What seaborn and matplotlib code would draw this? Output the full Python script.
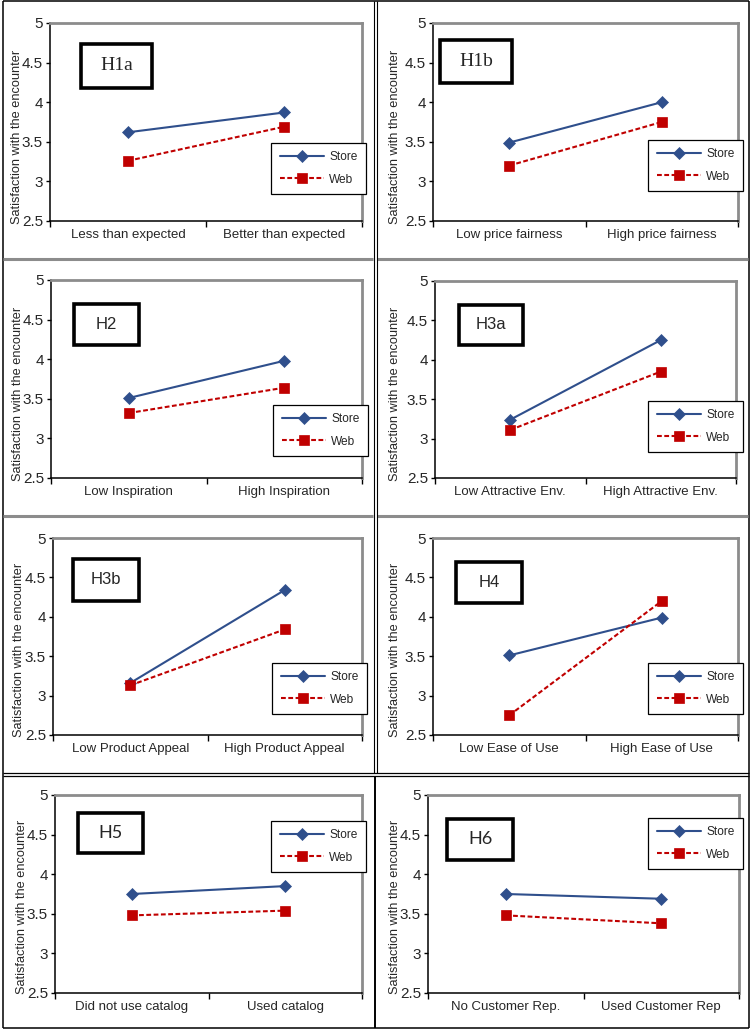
import numpy as np
import pandas as pd
import matplotlib
matplotlib.use("Agg")
import matplotlib.pyplot as plt
import seaborn as sns
from matplotlib.lines import Line2D
from matplotlib.patches import Rectangle

sns.set_style("white")
plt.rcParams['font.family'] = ['Liberation Sans', 'DejaVu Sans']

# ---------------- data ----------------
panel_names = ["H1a", "H1b", "H2", "H3a", "H3b", "H4", "H5", "H6"]
x_low = ["Less than expected", "Low price fairness", "Low Inspiration",
         "Low Attractive Env.", "Low Product Appeal", "Low Ease of Use",
         "Did not use catalog", "No Customer Rep."]
x_high = ["Better than expected", "High price fairness", "High Inspiration",
          "High Attractive Env.", "High Product Appeal", "High Ease of Use",
          "Used catalog", "Used Customer Rep"]
store_low = [3.62, 3.49, 3.51, 3.24, 3.16, 3.51, 3.75, 3.75]
store_high = [3.87, 4.00, 3.98, 4.25, 4.34, 3.99, 3.85, 3.69]
web_low = [3.26, 3.20, 3.32, 3.11, 3.13, 2.75, 3.48, 3.48]
web_high = [3.69, 3.75, 3.64, 3.85, 3.84, 4.20, 3.54, 3.38]
series = ["Store", "Web"]
y_ticks = [2.5, 3, 3.5, 4, 4.5, 5]
y_tick_labels = ["2.5", "3", "3.5", "4", "4.5", "5"]
y_label = "Satisfaction with the encounter"

# ---------------- layout (pixels) ----------------
W, H = 752, 1030
axes_px = [(50, 362, 23, 221), (433, 738, 23, 221),
           (51, 362, 280, 478), (435, 736, 281, 478),
           (53, 362, 538, 735), (433, 738, 538, 735),
           (55, 362, 795, 993), (428, 739, 795, 993)]
box_px = [(81, 152, 44, 88), (440, 512, 40, 83),
          (74, 139, 304, 345), (459, 523, 305, 345),
          (73, 139, 559, 601), (456, 522, 562, 603),
          (78, 143, 813, 853), (447, 513, 819, 860)]
box_font = [("Liberation Serif", 14), ("Liberation Serif", 14),
            ("Liberation Sans", 12), ("Liberation Sans", 12),
            ("Liberation Sans", 12), ("Liberation Sans", 12),
            ("Lato", 13), ("Lato", 13)]
legend_px = [(366, 143), (743, 140), (368, 405), (743, 401),
             (367, 663), (743, 663), (366, 821), (743, 818)]
ylabel_px = [(23, 137), (401, 137), (24, 394), (401, 394),
             (25, 650), (401, 650), (28, 907), (401, 907)]

STORE_C = "#2F4F8C"
WEB_C = "#C00000"
GRAY = "#8C8C8C"

fig = plt.figure(figsize=(W / 100, H / 100), dpi=100)
fig.patch.set_facecolor("white")


def fx(x):
    return x / W


def fy(y):
    return 1 - y / H


for i, name in enumerate(panel_names):
    l, r, t, b = axes_px[i]
    ax = fig.add_axes([fx(l), fy(b), (r - l) / W, (b - t) / H])
    cats = [x_low[i], x_high[i]]
    df = pd.DataFrame({
        "cond": cats * 2,
        "sat": [store_low[i], store_high[i], web_low[i], web_high[i]],
        "series": [series[0]] * 2 + [series[1]] * 2,
    })
    n0 = len(ax.lines)
    sns.pointplot(data=df[df["series"] == "Store"], x="cond", y="sat", order=cats,
                  color=STORE_C, markers="D", linestyles="-", errorbar=None,
                  linewidth=1.5, markersize=5.8, markeredgewidth=0.5, ax=ax)
    l_store = ax.lines[n0]
    n1 = len(ax.lines)
    sns.pointplot(data=df[df["series"] == "Web"], x="cond", y="sat", order=cats,
                  color=WEB_C, markers="s", linestyles="--", errorbar=None,
                  linewidth=1.5, markersize=7, markeredgewidth=0.5, ax=ax)
    l_web = ax.lines[n1]
    l_web.set_linestyle((0, (2.3, 1.2)))

    ax.set_ylim(2.5, 5)
    ax.set_yticks(y_ticks)
    ax.set_yticklabels(y_tick_labels)
    ax.set_xlim(-0.5, 1.5)
    ax.set_xticks([0, 1])
    ax.set_xticklabels(cats)
    ax.set_xticks([-0.5, 0.5, 1.5], minor=True)
    ax.tick_params(axis="x", which="major", length=0, pad=6, labelsize=9.5,
                   bottom=False)
    ax.tick_params(axis="x", which="minor", length=4, width=1, color="black",
                   direction="out", bottom=True)
    ax.tick_params(axis="y", which="major", length=3, width=1, color="black",
                   direction="out", left=True, pad=2, labelsize=11)
    ax.set_xlabel("")
    ax.set_ylabel(y_label, fontsize=9.2)
    lx, ly = ylabel_px[i]
    ax.yaxis.set_label_coords(fx(lx), fy(ly), transform=fig.transFigure)

    for s in ["left", "bottom"]:
        ax.spines[s].set_color("black")
        ax.spines[s].set_linewidth(1.1)
    for s in ["top", "right"]:
        ax.spines[s].set_color(GRAY)
        ax.spines[s].set_linewidth(2)
    ax.grid(False)

    # label box
    bx0, bx1, by0, by1 = box_px[i]
    ax0 = (bx0 - l) / (r - l)
    ax1 = (bx1 - l) / (r - l)
    ay0 = (b - by1) / (b - t)
    ay1 = (b - by0) / (b - t)
    ax.add_patch(Rectangle((ax0, ay0), ax1 - ax0, ay1 - ay0, transform=ax.transAxes,
                           facecolor="white", edgecolor="black", lw=2.6,
                           zorder=5, clip_on=False))
    fam, fs = box_font[i]
    ax.text((ax0 + ax1) / 2, (ay0 + ay1) / 2, name, transform=ax.transAxes,
            ha="center", va="center", fontsize=fs, family=[fam, "DejaVu Sans"],
            zorder=6)

    # legend
    lgx, lgy = legend_px[i]
    leg = ax.legend(handles=[l_store, l_web], labels=series, loc="upper right",
                    bbox_to_anchor=(fx(lgx), fy(lgy)), bbox_transform=fig.transFigure,
                    frameon=True, fancybox=False, edgecolor="black", framealpha=1,
                    fontsize=8.6, handlelength=3.7, handletextpad=0.45,
                    labelspacing=0.85, borderpad=0.7, borderaxespad=0)
    leg.get_frame().set_linewidth(0.9)
    leg.set_zorder(7)


# ---------------- panel borders ----------------
def seg(x0, y0, x1, y1, color="black", lw=0.8):
    fig.add_artist(Line2D([fx(x0), fx(x1)], [fy(y0), fy(y1)],
                          transform=fig.transFigure, color=color, lw=lw,
                          solid_capstyle="butt"))


# outer border
seg(2.5, 1, 748.5, 1, lw=1.1)
seg(2.5, 1028, 748.5, 1028, lw=1.1)
seg(2.5, 1, 2.5, 1028, lw=1.1)
seg(748.5, 1, 748.5, 1028, lw=1.1)
# gray bands between first three rows
for yb in (259, 515.5):
    seg(3, yb, 373, yb, color=GRAY, lw=2.2)
    seg(377, yb, 748, yb, color=GRAY, lw=2.2)
# vertical double line top three rows
seg(373.5, 1, 373.5, 772.5, lw=0.8)
seg(376.5, 1, 376.5, 772.5, lw=0.8)
# double horizontal before last row
seg(2.5, 772.5, 748.5, 772.5, lw=0.9)
seg(2.5, 775.5, 748.5, 775.5, lw=0.9)
# vertical line last row
seg(374.5, 775.5, 374.5, 1028, lw=1.4)

fig.savefig("out.png", dpi=100, facecolor="white")
